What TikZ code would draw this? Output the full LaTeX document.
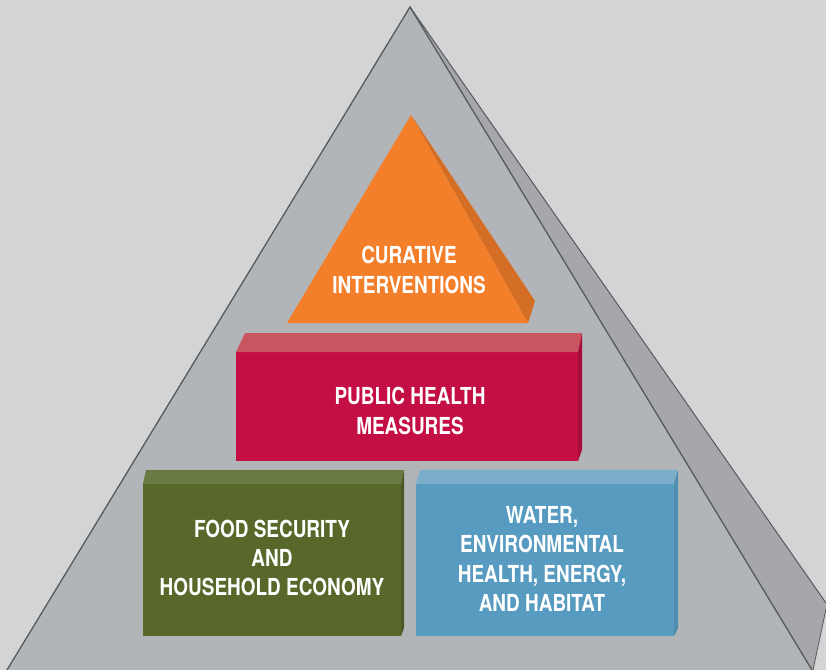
\documentclass[tikz,border=0pt]{standalone}
\usepackage{fontspec}
\newfontfamily\labelfont{TeX Gyre Heros}[FakeStretch=0.81]
\definecolor{bgcol}{HTML}{D3D4D6}
\definecolor{pyrfront}{HTML}{B2B5B7}
\definecolor{pyrside}{HTML}{A6A7AA}
\definecolor{pyredge}{HTML}{58595B}
\definecolor{orfront}{HTML}{F47F2A}
\definecolor{orside}{HTML}{D56E25}
\definecolor{rdfront}{HTML}{C30F43}
\definecolor{rdtop}{HTML}{C8555F}
\definecolor{rdside}{HTML}{A80C3A}
\definecolor{gnfront}{HTML}{58682A}
\definecolor{gntop}{HTML}{6A7A45}
\definecolor{gnside}{HTML}{4B5A25}
\definecolor{blfront}{HTML}{579CC0}
\definecolor{bltop}{HTML}{7AAECB}
\definecolor{blside}{HTML}{4D8DB0}
\tikzset{
  blockface/.style={draw=none, inner sep=0pt, outer sep=0pt},
  blocklabel/.style={text=white, align=center, inner sep=0pt,
    font=\labelfont\bfseries\fontsize{23.5}{29.5}\selectfont},
  pyrline/.style={draw=pyredge, line width=1.3bp, line join=miter}
}
\begin{document}
\begin{tikzpicture}[x=1bp, y=-1bp]
  \useasboundingbox (0,0) rectangle (826,670);
  \fill[bgcol] (0,0) rectangle (826,670);

  % large pyramid: side face, then front face
  \coordinate (apex) at (410,7);
  \coordinate (baseL) at (7,670);
  \coordinate (baseR) at (812,670);
  \coordinate (sideTop) at (826,603);
  \coordinate (sideLow) at (826,609);
  \coordinate (sideBase) at (813,670);
  \fill[pyrside] (apex) -- (sideTop) -- (sideLow) -- (sideBase) -- (baseR) -- cycle;
  \fill[pyrfront] (apex) -- (baseR) -- (baseL) -- cycle;
  \draw[pyrline] (baseL) -- (apex) -- (baseR);
  \draw[pyrline, line width=1bp] (apex) -- (sideTop);
  \draw[pyrline, line width=0.8bp] (sideLow) -- (sideBase);

  % curative interventions: small orange pyramid
  \coordinate (oApex) at (411,115);
  \coordinate (oL) at (287,323);
  \coordinate (oR) at (528,323);
  \coordinate (oS) at (535,301);
  \fill[orside] (oApex) -- (oS) -- (oR) -- cycle;
  \fill[orfront] (oApex) -- (oR) -- (oL) -- cycle;
  \node[blocklabel] (cur) at (409,270) {CURATIVE\\INTERVENTIONS};

  % public health measures
  \node[blockface, fill=rdfront, minimum width=342bp, minimum height=109bp] (phm) at (407,406.5) {};
  \fill[rdtop] (phm.north west) -- (245,333) -- (582,333) -- (phm.north east) -- cycle;
  \fill[rdside] (phm.north east) -- (582,333) -- (582,450) -- (phm.south east) -- cycle;
  \node[blocklabel] (phmtext) at (410,411) {PUBLIC HEALTH\\MEASURES};

  % food security and household economy
  \node[blockface, fill=gnfront, minimum width=258bp, minimum height=152bp] (food) at (272,560) {};
  \fill[gntop] (food.north west) -- (146,470) -- (404,470) -- (food.north east) -- cycle;
  \fill[gnside] (food.north east) -- (404,470) -- (404,628) -- (food.south east) -- cycle;
  \node[blocklabel] (foodtext) at (272,558) {FOOD SECURITY\\AND\\HOUSEHOLD ECONOMY};

  % water, environmental health, energy and habitat
  \node[blockface, fill=blfront, minimum width=258bp, minimum height=152bp] (water) at (545,560) {};
  \fill[bltop] (water.north west) -- (420,470) -- (678,470) -- (water.north east) -- cycle;
  \fill[blside] (water.north east) -- (678,470) -- (678,628) -- (water.south east) -- cycle;
  \node[blocklabel] (watertext) at (542,559) {WATER,\\ENVIRONMENTAL\\HEALTH, ENERGY,\\AND HABITAT};
\end{tikzpicture}
\end{document}
